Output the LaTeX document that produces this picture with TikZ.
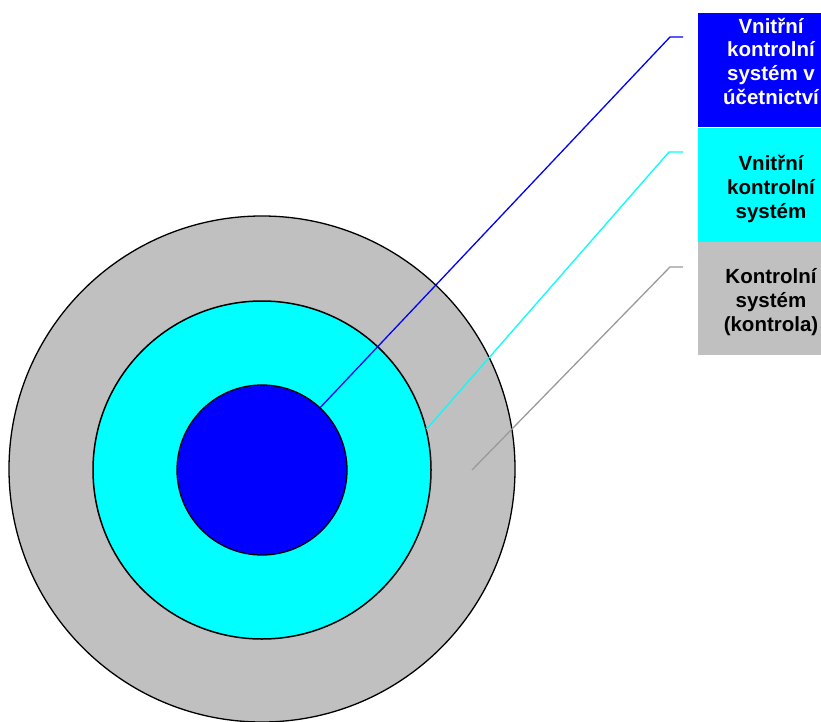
\documentclass[tikz,border=0pt]{standalone}
\usepackage{fontspec}
\setmainfont{Liberation Sans}
\definecolor{ringgray}{HTML}{C0C0C0}
\definecolor{ringcyan}{HTML}{00FFFF}
\definecolor{ringblue}{HTML}{0000FF}
\definecolor{leadgray}{HTML}{9A9A9A}
\begin{document}
\begin{tikzpicture}[x=1pt,y=-1pt,
  ring/.style={circle,draw=black,line width=1.3pt,inner sep=0pt},
  legbox/.style={rectangle,inner sep=0pt,minimum width=123pt,minimum height=114pt,anchor=north west},
  legtext/.style={inner sep=0pt,align=center,font=\fontsize{20.5}{23.7}\selectfont\bfseries},
  lead/.style={line width=1.3pt}]
\useasboundingbox (0,0) rectangle (821,722);
\clip (0,0) rectangle (821,722);
\node[ring,fill=ringgray,minimum size=506pt] (outer) at (262,469) {};
\node[ring,fill=ringcyan,minimum size=338pt,line width=1.5pt] (mid) at (262,470) {};
\node[ring,fill=ringblue,minimum size=170pt] (inner) at (262,470) {};
\node[legbox,fill=ringblue] (box1) at (698,13) {};
\node[legbox,fill=ringcyan] (box2) at (698,127.5) {};
\node[legbox,fill=ringgray,minimum height=113pt] (box3) at (698,242) {};
\node[legtext,text=white] (t1) at (771,61) {Vnitřní\\kontrolní\\systém v\\účetnictví};
\node[legtext] (t2) at (771,189) {Vnitřní\\kontrolní\\systém};
\node[legtext] (t3) at (771,302) {Kontrolní\\systém\\(kontrola)};
\coordinate (e1) at (670,37);
\coordinate (f1) at (683,37);
\coordinate (e2) at (669,152);
\coordinate (f2) at (683,152);
\coordinate (e3) at (670,267);
\coordinate (f3) at (683,267);
\coordinate (g3) at (472,470);
\draw[lead,ringblue] (inner.47) -- (e1) -- (f1);
\draw[lead,ringcyan] (mid.14.6) -- (e2) -- (f2);
\draw[lead,leadgray] (g3) -- (e3) -- (f3);
\end{tikzpicture}
\end{document}
